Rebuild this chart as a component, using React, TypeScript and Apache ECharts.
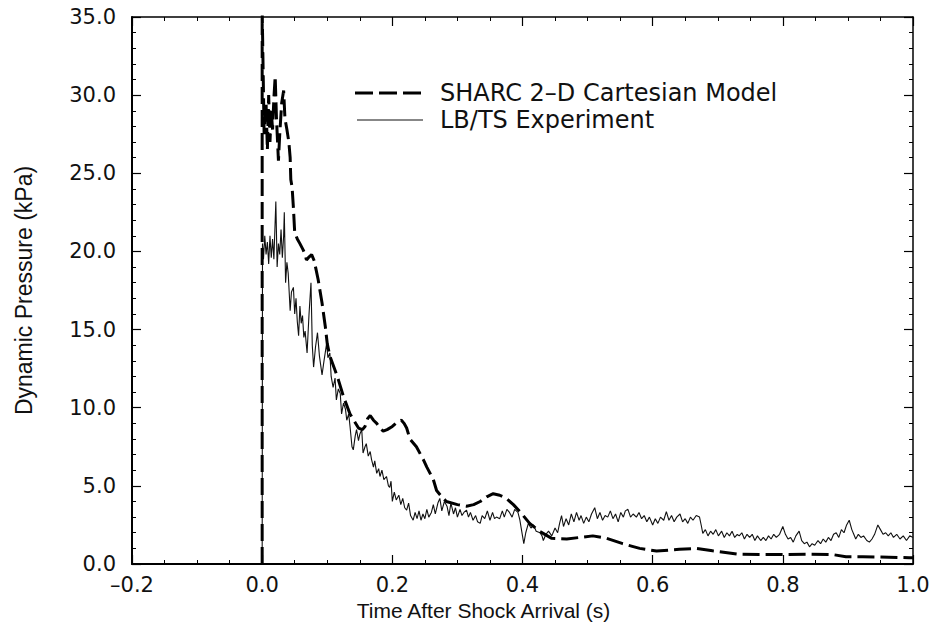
import React, { useEffect, useRef } from "react";
import * as echarts from "echarts";

// LB/TS Experiment (thin solid line)
const expTime = [
  0, 0.0005, 0.002, 0.004, 0.006, 0.008, 0.010, 0.012, 0.014, 0.016, 0.018, 0.021, 0.023, 0.025, 0.027, 0.029,
  0.031, 0.033, 0.034, 0.036, 0.038, 0.040, 0.043, 0.045, 0.048, 0.050, 0.052, 0.054, 0.056, 0.058, 0.060,
  0.062, 0.064, 0.066, 0.069, 0.072, 0.075, 0.077, 0.079, 0.082, 0.085, 0.088, 0.092, 0.095, 0.099, 0.101,
  0.104, 0.106, 0.109, 0.112, 0.114, 0.117, 0.120, 0.122, 0.125, 0.128, 0.130, 0.133, 0.135, 0.138, 0.140,
  0.143, 0.145, 0.148, 0.150, 0.153, 0.155, 0.158, 0.160, 0.163, 0.166, 0.168, 0.171, 0.173, 0.176, 0.179,
  0.181, 0.184, 0.187, 0.191, 0.194, 0.196, 0.198, 0.200, 0.203, 0.206, 0.210, 0.213, 0.216, 0.219, 0.222,
  0.225, 0.228, 0.232, 0.235, 0.238, 0.241, 0.244, 0.247, 0.250, 0.253, 0.256, 0.260, 0.263, 0.266, 0.270,
  0.273, 0.276, 0.280, 0.284, 0.287, 0.290, 0.294, 0.297, 0.300, 0.304, 0.307, 0.310, 0.314, 0.317, 0.320,
  0.324, 0.328, 0.331, 0.335, 0.338, 0.342, 0.346, 0.350, 0.354, 0.357, 0.360, 0.365, 0.369, 0.372, 0.376,
  0.380, 0.384, 0.388, 0.393, 0.396, 0.398, 0.402, 0.405, 0.409, 0.413, 0.417, 0.421, 0.427, 0.430, 0.432,
  0.436, 0.440, 0.445, 0.450, 0.454, 0.457, 0.460, 0.463, 0.467, 0.471, 0.475, 0.479, 0.483, 0.487, 0.490,
  0.494, 0.498, 0.502, 0.506, 0.511, 0.515, 0.519, 0.523, 0.527, 0.531, 0.535, 0.539, 0.543, 0.547, 0.551,
  0.555, 0.558, 0.562, 0.566, 0.570, 0.575, 0.579, 0.583, 0.587, 0.591, 0.595, 0.600, 0.604, 0.608, 0.612,
  0.617, 0.621, 0.625, 0.629, 0.633, 0.637, 0.642, 0.646, 0.650, 0.654, 0.658, 0.662, 0.667, 0.672, 0.675,
  0.677, 0.681, 0.685, 0.689, 0.693, 0.697, 0.701, 0.706, 0.710, 0.714, 0.718, 0.722, 0.726, 0.730, 0.733,
  0.737, 0.741, 0.745, 0.749, 0.753, 0.757, 0.761, 0.766, 0.770, 0.774, 0.778, 0.782, 0.786, 0.790, 0.795,
  0.800, 0.804, 0.808, 0.812, 0.816, 0.820, 0.825, 0.829, 0.833, 0.837, 0.841, 0.845, 0.849, 0.854, 0.858,
  0.862, 0.866, 0.870, 0.874, 0.878, 0.882, 0.886, 0.890, 0.894, 0.898, 0.902, 0.906, 0.909, 0.912, 0.916,
  0.920, 0.924, 0.929, 0.933, 0.937, 0.941, 0.946, 0.950, 0.954, 0.958, 0.962, 0.966, 0.970, 0.975, 0.980,
  0.985, 0.990, 0.995, 1.000,
];
const expValue = [
  0, 20.5, 19.5, 21.0, 19.8, 20.6, 19.2, 21.0, 19.6, 20.8, 19.5, 23.2, 19.0, 20.5, 19.8, 21.4,
  19.6, 21.0, 22.5, 18.0, 19.3, 18.6, 16.2, 17.4, 17.7, 16.0, 17.0, 15.5, 14.6, 16.5, 15.4,
  15.9, 14.5, 14.9, 13.5, 16.0, 18.0, 14.0, 12.6, 13.9, 14.8, 13.3, 12.1, 13.0, 14.1, 13.2,
  13.5, 12.0, 11.3, 11.9, 10.5, 11.2, 10.9, 9.6, 10.3, 9.9, 9.2, 9.6, 8.8, 7.5, 7.3,
  8.2, 8.6, 7.9, 8.3, 8.6, 7.1, 7.5, 7.7, 6.9, 7.2, 6.7, 6.2, 6.6, 5.8, 6.1,
  5.6, 6.0, 5.4, 5.6, 5.0, 4.9, 5.3, 4.0, 4.6, 4.1, 4.4, 3.8, 4.2, 3.6, 3.45,
  3.9, 3.1, 2.8, 3.3, 2.9, 3.4, 2.8, 3.2, 2.9, 3.5, 3.0, 3.3, 3.8, 3.2, 3.9,
  4.2, 3.4, 4.0, 3.7, 3.1, 3.9, 3.2, 3.6, 3.0, 3.5, 3.1, 3.3, 3.45, 3.0, 3.3,
  2.8, 3.1, 2.7, 2.6, 3.1, 2.9, 3.4, 2.8, 3.3, 2.9, 3.0, 2.9, 3.4, 3.0, 3.5,
  3.3, 3.0, 3.5, 3.3, 2.8, 2.3, 1.3, 2.0, 2.6, 2.3, 2.5, 2.1, 2.0, 1.8, 1.5,
  1.9, 2.1, 1.8, 2.3, 2.0, 2.6, 3.1, 2.4, 2.9, 2.5, 3.2, 2.7, 3.3, 2.8, 3.1,
  2.6, 3.0, 2.7, 3.2, 3.6, 2.9, 3.3, 2.8, 3.1, 3.0, 3.4, 2.9, 3.2, 2.7, 3.3,
  3.0, 3.4, 3.5, 3.0, 3.2, 3.0, 3.3, 2.9, 3.1, 2.7, 3.0, 2.5, 2.9, 2.6, 3.0,
  2.8, 3.35, 2.8, 3.1, 2.7, 3.0, 3.2, 2.7, 2.9, 2.6, 3.0, 2.8, 3.1, 3.0, 2.4,
  1.96, 2.2, 1.8, 2.1, 1.9, 2.2, 1.8, 2.1, 1.7, 2.0, 1.8, 2.1, 1.7, 1.9, 1.8,
  2.0, 1.6, 1.9, 1.7, 1.9, 1.5, 1.8, 1.5, 1.7, 1.5, 1.8, 1.6, 1.9, 1.7, 1.9,
  2.4, 1.9, 1.6, 1.7, 1.4, 1.8, 2.1, 1.5, 1.3, 1.4, 1.1, 1.3, 1.2, 1.5, 1.3,
  1.6, 1.4, 1.7, 1.5, 1.9, 2.0, 1.7, 2.2, 2.0, 2.5, 2.8, 2.2, 1.9, 1.6, 1.9,
  1.7, 1.8, 1.5, 1.4, 1.6, 1.9, 2.5, 2.2, 1.9, 2.0, 1.8, 2.0, 1.7, 1.9, 1.6,
  1.8, 1.5, 1.8, 1.7,
];

// SHARC 2-D Cartesian Model (thick dashed line)
const modelTime = [
  0, 0, 0.003, 0.006, 0.008, 0.010, 0.012, 0.014, 0.016, 0.018, 0.020, 0.022, 0.025, 0.027, 0.030, 0.033,
  0.035, 0.038, 0.041, 0.043, 0.044, 0.046, 0.048, 0.050, 0.054, 0.058, 0.063, 0.066, 0.068, 0.071, 0.076,
  0.080, 0.086, 0.092, 0.097, 0.100, 0.104, 0.112, 0.117, 0.125, 0.135, 0.148, 0.154, 0.158, 0.162, 0.166,
  0.171, 0.176, 0.181, 0.186, 0.192, 0.200, 0.208, 0.214, 0.218, 0.222, 0.227, 0.237, 0.248, 0.253, 0.263,
  0.268, 0.276, 0.283, 0.300, 0.314, 0.325, 0.335, 0.345, 0.355, 0.365, 0.375, 0.386, 0.396, 0.411, 0.427,
  0.445, 0.468, 0.488, 0.508, 0.529, 0.554, 0.580, 0.606, 0.641, 0.667, 0.692, 0.733, 0.769, 0.805, 0.841,
  0.877, 0.897, 0.923, 0.948, 0.994, 1.000,
];
const modelValue = [
  0, 35.5, 27.5, 29.5, 26.5, 30.0, 27.0, 29.0, 27.8, 29.8, 31.2, 28.5, 25.8, 27.5, 29.5, 30.3,
  28.5, 27.8, 27.0, 26.0, 24.6, 24.1, 22.8, 21.2, 20.8, 20.5, 20.1, 19.8, 19.45, 19.6, 19.8,
  19.4, 18.2, 16.7, 15.2, 14.1, 13.3, 12.4, 11.8, 10.7, 9.6, 8.7, 8.6, 8.8, 9.3, 9.5,
  9.2, 9.0, 8.7, 8.5, 8.6, 8.8, 9.1, 9.2, 9.0, 8.7, 8.0, 7.5, 6.65, 6.2, 5.4,
  4.7, 4.3, 4.0, 3.8, 3.7, 3.8, 4.0, 4.3, 4.5, 4.4, 4.2, 3.8, 3.35, 2.6, 2.07,
  1.64, 1.6, 1.7, 1.8, 1.65, 1.3, 1.0, 0.83, 0.94, 1.0, 0.85, 0.62, 0.6, 0.6, 0.62,
  0.6, 0.47, 0.47, 0.45, 0.4, 0.4,
];

const xTicks = { min: -0.2, max: 1.0, interval: 0.2 };
const yTicks = { min: 0, max: 35, interval: 5 };

const seriesNames = ["SHARC 2\u2013D Cartesian Model", "LB/TS Experiment"];

const FONT = '"Liberation Sans", Arial, Helvetica, sans-serif';
const WIDE = '"DejaVu Sans", "Liberation Sans", Arial, sans-serif';

export default function App() {
  const ref = useRef<HTMLDivElement>(null);

  useEffect(() => {
    if (!ref.current) return;
    const chart = echarts.init(ref.current, undefined, { renderer: "svg" });

    const expData = expTime.map((t, i) => [t, expValue[i]]);
    const modelData = modelTime.map((t, i) => [t, modelValue[i]]);

    const xFmt = (v: number) => {
      const s = Math.abs(v).toFixed(1);
      return v < -1e-9 ? "\u2013" + s : s;
    };

    const baseX = {
      type: "value",
      min: xTicks.min,
      max: xTicks.max,
      interval: xTicks.interval,
      splitLine: { show: false },
      axisLine: { show: true, onZero: false, lineStyle: { color: "#000", width: 2 } },
      axisTick: { show: true, inside: true, length: 9, lineStyle: { color: "#000", width: 1.2 } },
      minorTick: { show: true, splitNumber: 4, length: 4, lineStyle: { color: "#000", width: 1 } },
    };
    const baseY = {
      type: "value",
      min: yTicks.min,
      max: yTicks.max,
      interval: yTicks.interval,
      splitLine: { show: false },
      axisLine: { show: true, onZero: false, lineStyle: { color: "#000", width: 2 } },
      axisTick: { show: true, inside: true, length: 9, lineStyle: { color: "#000", width: 1.2 } },
      minorTick: { show: true, splitNumber: 5, length: 4, lineStyle: { color: "#000", width: 1 } },
    };

    chart.setOption({
      animation: false,
      backgroundColor: "#fff",
      grid: { left: 132, right: 21, top: 17, bottom: 62, containLabel: false },
      xAxis: [
        {
          ...baseX,
          position: "bottom",
          name: "Time After Shock Arrival (s)",
          nameLocation: "middle",
          nameGap: 34,
          nameTextStyle: { fontFamily: FONT, fontSize: 21, color: "#111", padding: [0, 78, 0, 0] },
          axisLabel: {
            show: true,
            margin: 10,
            fontFamily: WIDE,
            fontSize: 21,
            color: "#111",
            formatter: xFmt,
          },
        },
        {
          ...baseX,
          position: "top",
          axisLine: { show: true, onZero: false, lineStyle: { color: "#000", width: 1.5 } },
          axisLabel: { show: false },
        },
      ],
      yAxis: [
        {
          ...baseY,
          position: "left",
          name: "Dynamic Pressure (kPa)",
          nameLocation: "middle",
          nameGap: 97,
          nameTextStyle: { fontFamily: FONT, fontSize: 23, color: "#111" },
          axisLabel: {
            show: true,
            margin: 16,
            fontFamily: WIDE,
            fontSize: 21,
            color: "#111",
            formatter: (v: number) => v.toFixed(1),
          },
        },
        {
          ...baseY,
          position: "right",
          axisLine: { show: true, onZero: false, lineStyle: { color: "#000", width: 1.5 } },
          axisLabel: { show: false },
        },
      ],
      series: [
        {
          name: seriesNames[0],
          type: "line",
          data: modelData,
          xAxisIndex: 0,
          yAxisIndex: 0,
          showSymbol: false,
          symbol: "none",
          clip: true,
          z: 3,
          lineStyle: { color: "#000", width: 3, type: [17, 6] },
        },
        {
          name: seriesNames[1],
          type: "line",
          data: expData,
          xAxisIndex: 0,
          yAxisIndex: 0,
          showSymbol: false,
          symbol: "none",
          clip: true,
          z: 2,
          lineStyle: { color: "#111", width: 1.1 },
        },
      ],
      graphic: [
        {
          type: "line",
          shape: { x1: 355, y1: 93, x2: 421, y2: 93 },
          style: { stroke: "#000", lineWidth: 3, lineDash: [18, 6] },
        },
        {
          type: "text",
          x: 440,
          y: 93,
          style: {
            text: seriesNames[0],
            fontFamily: WIDE,
            fontSize: 24,
            lineHeight: 25,
            fill: "#111",
            verticalAlign: "middle",
            align: "left",
          },
        },
        {
          type: "line",
          shape: { x1: 357, y1: 120, x2: 423, y2: 120 },
          style: { stroke: "#111", lineWidth: 1.2 },
        },
        {
          type: "text",
          x: 440,
          y: 120,
          style: {
            text: seriesNames[1],
            fontFamily: WIDE,
            fontSize: 24,
            lineHeight: 25,
            fill: "#111",
            verticalAlign: "middle",
            align: "left",
          },
        },
      ],
    });

    return () => chart.dispose();
  }, []);

  return (
    <div
      ref={ref}
      style={{ position: "absolute", left: 0, top: 0, width: 934, height: 626, background: "#fff" }}
    />
  );
}
